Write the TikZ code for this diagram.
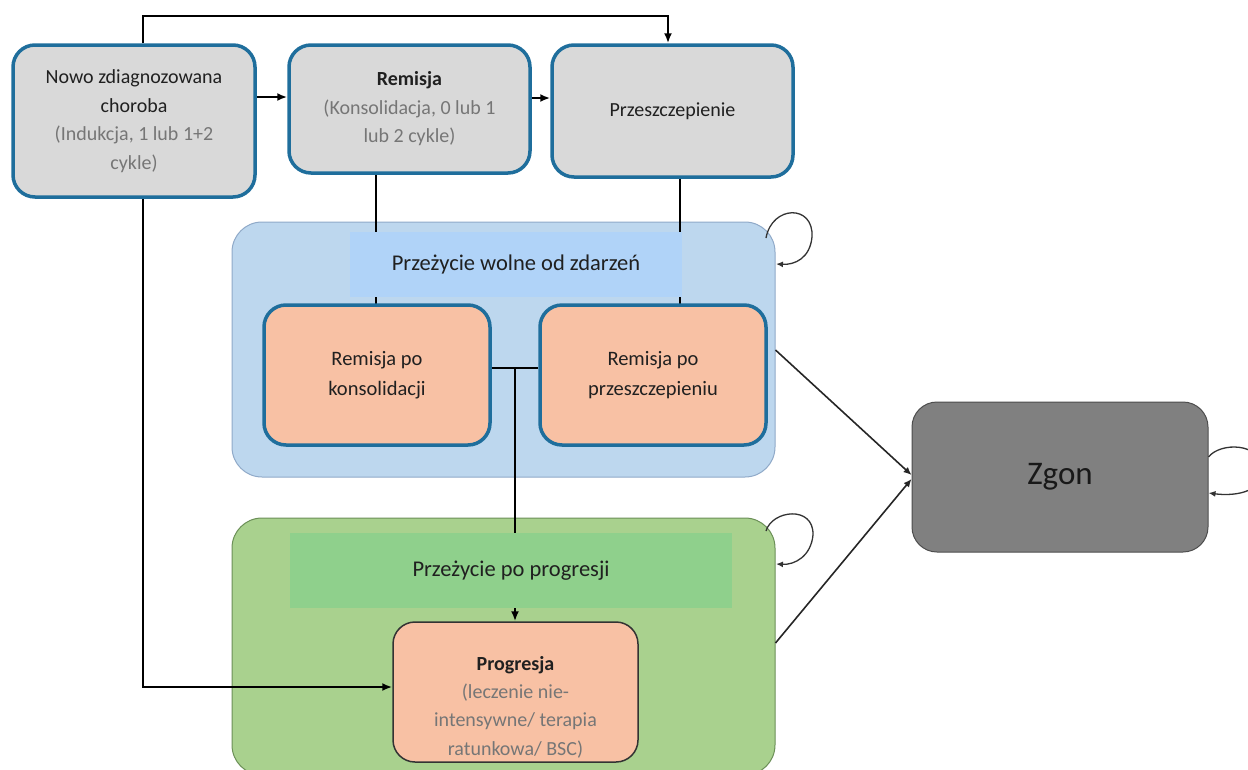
\documentclass[tikz,border=0pt]{standalone}
\usepackage{fontspec}
\setmainfont{Carlito}
\usetikzlibrary{arrows.meta}
\definecolor{nodeblue}{HTML}{1F6E9C}
\definecolor{boxgray}{HTML}{D9D9D9}
\definecolor{maintxt}{HTML}{202020}
\definecolor{subgray}{HTML}{767676}
\definecolor{efsouter}{HTML}{BDD7EE}
\definecolor{efsborder}{HTML}{8FA9C8}
\definecolor{efsband}{HTML}{B0D3F8}
\definecolor{ppouter}{HTML}{A9D18E}
\definecolor{ppborder}{HTML}{6B8F57}
\definecolor{ppband}{HTML}{8FD08C}
\definecolor{orangefill}{HTML}{F8C1A4}
\definecolor{deathfill}{HTML}{808080}
\definecolor{deathborder}{HTML}{4D4D4D}
\tikzset{
  stbox/.style={draw=nodeblue, line width=3.5pt, fill=boxgray, rounded corners=22pt,
    inner sep=0pt, align=center, text=maintxt, font=\fontsize{20}{28.5}\selectfont},
  orbox/.style={draw=nodeblue, line width=3.5pt, fill=orangefill, rounded corners=22pt,
    inner sep=0pt, align=center, text=maintxt, font=\fontsize{20.5}{30}\selectfont},
  region/.style={rounded corners=30pt, inner sep=0pt, line width=1pt},
  band/.style={inner sep=0pt, align=center, text=maintxt, font=\fontsize{22.5}{27}\selectfont},
  conn/.style={line width=2.8pt, draw=black},
  arr/.style={conn, -{Latex[length=10pt,width=8pt]}},
  thinarr/.style={line width=1.6pt, draw=black!85, -{Latex[length=8pt,width=7pt]}},
  selfloop/.style={line width=1.3pt, draw=black!80, -{Latex[length=7pt,width=6pt]}},
}
\begin{document}
\begin{tikzpicture}[x=1pt,y=-1pt]
\useasboundingbox (0,0) rectangle (1248,769);

% regions
\node[region, draw=efsborder, fill=efsouter, minimum width=543pt, minimum height=255pt] (efs) at (503.5,349.5) {};
\node[region, draw=ppborder, fill=ppouter, minimum width=543pt, minimum height=257pt] (pp) at (503.5,646.5) {};

% top boxes
\node[stbox, minimum width=242pt, minimum height=152pt] (b1) at (134,121)
  {Nowo zdiagnozowana\\choroba\\\textcolor{subgray}{(Indukcja, 1 lub 1+2}\\\textcolor{subgray}{cykle)}};
\node[stbox, minimum width=241pt, minimum height=128pt] (b2) at (409.5,109)
  {\textbf{Remisja}\\\textcolor{subgray}{(Konsolidacja, 0 lub 1}\\\textcolor{subgray}{lub 2 cykle)}};
\node[stbox, minimum width=241pt, minimum height=132pt] (b3) at (672.5,111) {Przeszczepienie};

% connectors under bands
\draw[conn] (b2.south -| 376,0) -- (376,305) coordinate (rkin);
\draw[conn] (b3.south -| 680,0) -- (680,305) coordinate (rpin);

\node[band, fill=efsband, minimum width=332pt, minimum height=65pt] (band1) at (516,264.5) {Przeżycie wolne od zdarzeń};

\node[orbox, minimum width=226pt, minimum height=140pt] (rk) at (377,375) {Remisja po\\konsolidacji};
\node[orbox, minimum width=226pt, minimum height=140pt] (rp) at (653,375) {Remisja po\\przeszczepieniu};

\draw[conn] (rk.east |- 0,368) -- (rp.west |- 0,368);
\draw[conn] (515,368) coordinate (jn) -- (515,533);

\node[band, fill=ppband, minimum width=442pt, minimum height=75pt] (band2) at (511,570.5) {Przeżycie po progresji};

\node[draw=black!80, line width=1.5pt, fill=orangefill, rounded corners=22pt, inner sep=0pt,
  minimum width=245pt, minimum height=140pt] (prog) at (515.5,692) {};
\node[align=center, text=maintxt, font=\fontsize{20}{28.3}\selectfont, inner sep=0pt] (progtxt) at (515.5,707)
  {\textbf{Progresja}\\\textcolor{subgray}{(leczenie nie-}\\\textcolor{subgray}{intensywne/ terapia}\\\textcolor{subgray}{ratunkowa/ BSC)}};

\node[draw=deathborder, line width=1pt, fill=deathfill, rounded corners=25pt, inner sep=0pt,
  minimum width=296pt, minimum height=150pt, font=\fontsize{33}{40}\selectfont, text=black!90] (zg) at (1060,477) {Zgon};

% arrows
\draw[arr] (b1.north -| 143,0) |- (668,16) -- (b3.north -| 668,0);
\draw[arr] (b1.east |- 0,97) -- (b2.west |- 0,97);
\draw[arr] (b2.east |- 0,98) -- (b3.west |- 0,98);
\draw[arr] (band2.south -| 515,0) -- (prog.north -| 515,0);
\draw[arr] (b1.south -| 143,0) |- (prog.west |- 0,687);
\draw[thinarr] (efs.east |- 0,350) -- (zg.west |- 0,475);
\draw[thinarr] (pp.east |- 0,643) -- (zg.west |- 0,479);

% self loops
\draw[selfloop] (766,238) coordinate (l1a) .. controls (772,205) and (814,204) .. (812,237)
  .. controls (810,258) and (795,265) .. (776,264) coordinate (l1b);
\draw[selfloop] (766,531) coordinate (l2a) .. controls (772,510) and (814,505) .. (813,535)
  .. controls (811,556) and (795,565) .. (776,564) coordinate (l2b);
\draw[selfloop] (zg.east |- 0,457) .. controls (1220,442) and (1262,442) .. (1262,470)
  .. controls (1262,494) and (1232,496) .. (zg.east |- 0,493);
\end{tikzpicture}
\end{document}
